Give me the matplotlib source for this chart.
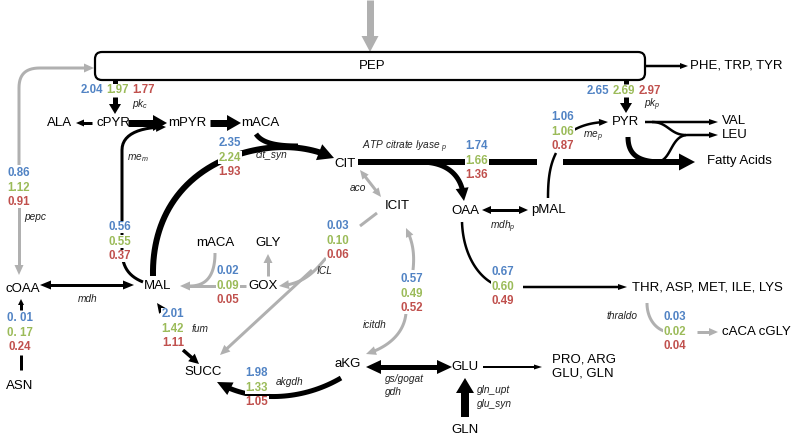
import numpy as np
import matplotlib
matplotlib.use("Agg")
import matplotlib.pyplot as plt
from matplotlib.patches import Polygon, FancyBboxPatch

plt.rcParams['font.family'] = ['Liberation Sans', 'DejaVu Sans']
plt.rcParams['mathtext.fontset'] = 'custom'
plt.rcParams['mathtext.it'] = 'Liberation Sans:italic'
plt.rcParams['mathtext.rm'] = 'Liberation Sans:italic'

# ---------------- data ----------------
flux_ids = ['pk_c', 'pk_p', 'pepc', 'me_m', 'cit_syn', 'acl_p', 'me_p', 'icl',
            'gox_mal', 'icitdh', 'oaa_thr', 'thraldo', 'fum', 'akgdh', 'asn']
flux_blue = [2.04, 2.65, 0.86, 0.56, 2.35, 1.74, 1.06, 0.03, 0.02, 0.57, 0.67, 0.03, 2.01, 1.98, 0.01]
flux_green = [1.97, 2.69, 1.12, 0.55, 2.24, 1.66, 1.06, 0.10, 0.09, 0.49, 0.60, 0.02, 1.42, 1.33, 0.17]
flux_red = [1.77, 2.97, 0.91, 0.37, 1.93, 1.36, 0.87, 0.06, 0.05, 0.52, 0.49, 0.04, 1.11, 1.05, 0.24]

node_names = ['PEP', 'PHE, TRP, TYR', 'ALA', 'cPYR', 'mPYR', 'mACA', 'CIT', 'ICIT', 'OAA',
              'pMAL', 'PYR', 'VAL', 'LEU', 'Fatty Acids', 'mACA', 'GLY', 'cOAA', 'MAL',
              'GOX', 'THR, ASP, MET, ILE, LYS', 'cACA cGLY', 'SUCC', 'aKG', 'GLU',
              'PRO, ARG', 'GLU, GLN', 'ASN', 'GLN']

enzyme_labels = [r'$pk_c$', r'$me_m$', 'cit_syn', r'ATP citrate lyase $_p$', 'aco', r'$mdh_p$',
                 r'$me_p$', r'$pk_p$', 'pepc', 'mdh', 'ICL', 'fum', 'icitdh', 'akgdh',
                 'gs/gogat', 'gdh', 'gln_upt', 'glu_syn', 'thraldo']

# ---------------- layout (pixel coords) ----------------
node_pos = [(372, 66, 'c'), (690, 66, 'l'), (60, 123, 'c'), (113, 123, 'c'), (187, 123, 'c'),
            (260, 123, 'c'), (345, 164, 'c'), (397, 206, 'c'), (465, 211, 'c'), (548, 210, 'c'),
            (626, 122, 'c'), (722, 121, 'l'), (722, 135, 'l'), (707, 161, 'l'), (215, 243, 'c'),
            (268, 243, 'c'), (23, 289, 'c'), (158, 286, 'c'), (263, 286, 'c'), (632, 287, 'l'),
            (722, 332, 'l'), (203, 372, 'c'), (348, 364, 'c'), (465, 367, 'c'), (552, 359, 'l'),
            (552, 373, 'l'), (20, 386, 'c'), (465, 430, 'c')]

enzyme_pos = [(140, 104, 'c'), (138, 158, 'c'), (272, 155, 'c'), (405, 147, 'c'), (358, 188, 'c'),
              (503, 227, 'c'), (593, 137, 'c'), (652, 105, 'c'), (35, 217, 'c'), (88, 299, 'c'),
              (325, 271, 'c'), (200, 329, 'c'), (375, 325, 'c'), (290, 382, 'c'),
              (385, 379, 'l'), (385, 392, 'l'), (477, 390, 'l'), (477, 404, 'l'), (622, 316, 'c')]

# value label placement: (orientation, x, y)
value_pos = {'pk_c': ('h', 92, 90), 'pk_p': ('h', 598, 91), 'pepc': ('v', 19, 173),
             'me_m': ('v', 120, 227), 'cit_syn': ('v', 230, 143), 'acl_p': ('v', 477, 146),
             'me_p': ('v', 563, 117), 'icl': ('v', 338, 226), 'gox_mal': ('v', 228, 271),
             'icitdh': ('v', 412, 279), 'oaa_thr': ('v', 503, 272), 'thraldo': ('v', 675, 317),
             'fum': ('v', 173, 314), 'akgdh': ('v', 257, 373), 'asn': ('v', 20, 318)}

BLUE, GREEN, RED = '#5183c4', '#9bbb59', '#c0504d'
GRAY = '#b0b0b0'
BLACK = '#000000'

W, H = 797, 436
fig = plt.figure(figsize=(W / 100, H / 100), dpi=100)
ax = fig.add_axes([0, 0, 1, 1])
ax.set_xlim(0, W)
ax.set_ylim(H, 0)
ax.axis('off')

PT = 0.72  # px -> pt


def bez(p0, p1, p2, p3, n=40):
    t = np.linspace(0, 1, n)[:, None]
    p0, p1, p2, p3 = map(lambda p: np.asarray(p, float), (p0, p1, p2, p3))
    return (1 - t) ** 3 * p0 + 3 * (1 - t) ** 2 * t * p1 + 3 * (1 - t) * t ** 2 * p2 + t ** 3 * p3


def trim_end(P, d):
    P = np.asarray(P, float)
    acc = 0.0
    for i in range(len(P) - 1, 0, -1):
        seg = np.linalg.norm(P[i] - P[i - 1])
        if acc + seg >= d:
            f = (d - acc) / seg
            base = P[i] + (P[i - 1] - P[i]) * f
            return np.vstack([P[:i], base]), base
        acc += seg
    return P[:1], P[0]


def draw(pts, lw, color, end=True, start=False, hl=8, hw=8, z=2):
    pts = np.asarray(pts, float)
    P = pts.copy()
    heads = []
    if end:
        P, base = trim_end(P, hl)
        heads.append((pts[-1], base))
    if start:
        Q, base = trim_end(P[::-1], hl)
        P = Q[::-1]
        heads.append((pts[0], base))
    ax.plot(P[:, 0], P[:, 1], color=color, lw=lw * PT, solid_capstyle='butt',
            solid_joinstyle='round', zorder=z)
    for tip, base in heads:
        d = tip - base
        d = d / np.linalg.norm(d)
        n = np.array([-d[1], d[0]])
        b2 = base - d * 1.0
        poly = [tip, b2 + n * hw / 2, b2 - n * hw / 2]
        ax.add_patch(Polygon(poly, closed=True, facecolor=color, edgecolor='none', zorder=z))


# ---------------- arrows ----------------
# input into PEP
draw([(370, 0), (370, 52)], 7, GRAY, hl=15, hw=17)
# PEP box
ax.add_patch(FancyBboxPatch((95, 52), 550, 28, boxstyle='round,pad=0,rounding_size=7',
                            facecolor='white', edgecolor=BLACK, lw=2.2 * PT, zorder=3))
draw([(645, 66), (688, 66)], 2.5, BLACK, hl=7, hw=6)
# pepc grey loop
loop = np.vstack([[(19, 165)], [(19, 88)], bez((19, 88), (19, 74), (26, 68), (40, 68), 15)[1:], [(94, 68)]])
draw(loop, 3, GRAY, hl=9, hw=9)
draw([(19, 207), (19, 275)], 3, GRAY, hl=9, hw=9)
# pk_c
draw([(115, 80), (115, 84)], 5, BLACK, end=False)
draw([(115, 97), (115, 114)], 5, BLACK, hl=9, hw=12)
# cPYR -> ALA
draw([(92, 123), (76, 123)], 3, BLACK, hl=7, hw=7)
# cPYR -> mPYR, mPYR -> mACA
draw([(128, 123), (167, 123)], 7, BLACK, hl=13, hw=16)
draw([(210, 123), (241, 123)], 7, BLACK, hl=13, hw=16)
# me_m
mem = np.vstack([bez((143, 282), (128, 276), (122, 266), (122, 250), 15),
                 bez((122, 150), (122, 134), (140, 127), (166, 127), 15)])
draw(mem, 3, BLACK, hl=9, hw=9)
# cit_syn arc from MAL to CIT
arc = np.vstack([bez((153, 276), (152, 225), (175, 180), (228, 158), 30),
                 bez((228, 158), (262, 145), (300, 142), (334, 158), 30)[1:]])
draw(arc, 6, BLACK, hl=15, hw=17)
draw(bez((256, 134), (262, 143), (276, 146), (298, 146)), 5, BLACK, end=False)
# CIT -> fatty acids
draw([(358, 162), (537, 162)], 6, BLACK, end=False)
draw([(563, 162), (695, 162)], 6, BLACK, hl=15, hw=17)
# CIT -> OAA
draw(bez((420, 162), (448, 162), (463, 176), (464, 201)), 5, BLACK, hl=12, hw=13)
# OAA <-> pMAL
draw([(482, 210), (528, 210)], 3, BLACK, start=True, hl=8, hw=8)
# me_p
draw(bez((548, 198), (548, 178), (550, 165), (556, 153)), 2.5, BLACK, end=False)
draw(bez((572, 131), (582, 125), (594, 122), (608, 122)), 2.5, BLACK, hl=8, hw=7)
# pk_p
draw([(626, 80), (626, 84)], 5, BLACK, end=False)
draw([(626, 97), (626, 113)], 5, BLACK, hl=9, hw=12)
# PYR -> VAL / LEU / fatty acids
draw([(645, 122), (718, 122)], 2.5, BLACK, hl=8, hw=6)
draw(bez((652, 122), (668, 122), (670, 135), (686, 135)), 2.5, BLACK, end=False)
draw(np.vstack([bez((656, 162), (672, 162), (670, 135), (688, 135)), [(718, 135)]]), 2.5, BLACK, hl=8, hw=6)
draw(bez((628, 137), (628, 156), (640, 162), (662, 162)), 5, BLACK, end=False)
# aco
draw([(360, 170), (381, 197)], 3, GRAY, start=True, hl=8, hw=8)
# ICL
draw([(377, 213), (360, 226)], 3, GRAY, end=False)
draw(bez((326, 258), (314, 272), (304, 284), (279, 286)), 3, GRAY, hl=9, hw=9)
draw([(312, 270), (220, 355)], 3, GRAY, hl=9, hw=9)
# GOX -> MAL, mACA -> MAL, GOX -> GLY
draw([(246, 286), (180, 286)], 3, GRAY, hl=9, hw=9)
draw(bez((215, 253), (215, 276), (206, 286), (190, 286)), 3, GRAY, end=False)
draw([(268, 276), (268, 254)], 3, GRAY, hl=8, hw=9)
# cOAA <-> MAL
draw([(40, 285), (134, 285)], 3, BLACK, start=True, hl=10, hw=9)
# ASN -> cOAA
draw([(21, 310), (21, 299)], 3, BLACK, hl=5, hw=6)
draw([(21, 355), (21, 370)], 3, BLACK, end=False)
# fum
draw([(167, 317), (157, 303)], 3.5, BLACK, hl=9, hw=9)
draw([(183, 350), (199, 364)], 3.5, BLACK, hl=9, hw=10)
# akgdh
draw(bez((341, 378), (300, 402), (250, 402), (217, 382)), 5, BLACK, hl=14, hw=14)
# icitdh
draw(bez((413, 270), (415, 252), (412, 240), (406, 228)), 3, GRAY, hl=8, hw=8)
draw(bez((406, 313), (404, 335), (386, 348), (366, 354)), 3, GRAY, hl=9, hw=9)
# aKG <-> GLU
draw([(366, 367), (452, 367)], 5, BLACK, start=True, hl=14, hw=14)
# GLU -> PRO
draw([(483, 367), (542, 367)], 2, BLACK, hl=7, hw=5)
# GLN -> GLU
draw([(465, 417), (465, 378)], 8, BLACK, hl=14, hw=18)
# OAA -> THR
draw(bez((462, 222), (463, 252), (476, 274), (492, 283)), 2.5, BLACK, end=False)
draw([(523, 287), (627, 287)], 2.5, BLACK, hl=8, hw=6)
# thraldo
draw(bez((647, 303), (647, 318), (655, 328), (664, 331)), 3, GRAY, end=False)
draw([(697, 332), (718, 332)], 3, GRAY, hl=8, hw=8)

# ---------------- text ----------------
for name, (x, y, a) in zip(node_names, node_pos):
    ax.text(x, y, name, ha='center' if a == 'c' else 'left', va='center', fontsize=9.5,
            color=BLACK, zorder=5)

for lab, (x, y, a) in zip(enzyme_labels, enzyme_pos):
    ax.text(x, y, lab, ha='center' if a == 'c' else 'left', va='center', fontsize=7.3,
            style='italic', color='#222222', zorder=5)

bbox = dict(facecolor='white', edgecolor='none', pad=0.3)
for fid, b, g, r in zip(flux_ids, flux_blue, flux_green, flux_red):
    orient, x, y = value_pos[fid]
    strs = [f'{b:.2f}', f'{g:.2f}', f'{r:.2f}']
    if fid == 'asn':
        strs = [strs[0].replace('0.', '0. '), strs[1].replace('0.', '0. '), strs[2]]
    cols = [BLUE, GREEN, RED]
    for i, (s, c) in enumerate(zip(strs, cols)):
        if orient == 'h':
            px, py = x + i * 26, y
        else:
            px, py = x, y + i * 14.5
        ax.text(px, py, s, ha='center', va='center', fontsize=8.3, fontweight='bold',
                color=c, bbox=bbox, zorder=4)

fig.savefig('out.png', dpi=100)
